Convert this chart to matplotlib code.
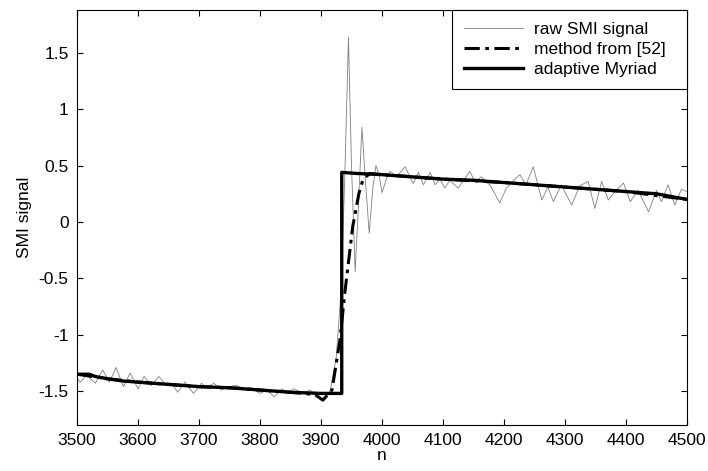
import matplotlib
matplotlib.use('Agg')
import matplotlib.pyplot as plt

plt.rcParams['font.family'] = ['Liberation Sans', 'DejaVu Sans']

# raw SMI signal (sample index, value)
raw_n = [3500, 3505, 3516, 3530, 3542, 3553, 3564, 3576, 3587, 3600,
         3610, 3622, 3634, 3647, 3655, 3665, 3677, 3691, 3704, 3713,
         3724, 3737, 3748, 3762, 3774, 3786, 3800, 3812, 3823, 3836,
         3846, 3856, 3870, 3882, 3893, 3905, 3915, 3925, 3933, 3939,
         3945, 3950, 3956, 3961, 3967, 3973, 3979, 3985, 3990, 3995,
         4000, 4007, 4013, 4024, 4030, 4038, 4051, 4060, 4068, 4079,
         4087, 4095, 4103, 4111, 4125, 4135, 4144, 4152, 4163, 4178,
         4193, 4204, 4214, 4226, 4236, 4248, 4262, 4272, 4281, 4294,
         4311, 4324, 4338, 4349, 4360, 4371, 4382, 4396, 4407, 4420,
         4437, 4450, 4458, 4469, 4480, 4491, 4500]
raw_v = [-1.38, -1.42, -1.36, -1.43, -1.31, -1.42, -1.29, -1.46, -1.34, -1.48,
         -1.37, -1.45, -1.37, -1.45, -1.43, -1.51, -1.42, -1.52, -1.43, -1.47,
         -1.43, -1.49, -1.46, -1.45, -1.48, -1.47, -1.52, -1.49, -1.55, -1.48,
         -1.51, -1.48, -1.52, -1.49, -1.54, -1.58, -1.50, -1.20, -0.60, 0.40,
         1.64, 0.50, -0.44, 0.10, 0.84, 0.35, -0.10, 0.30, 0.50, 0.42,
         0.26, 0.38, 0.45, 0.40, 0.44, 0.49, 0.34, 0.44, 0.33, 0.44,
         0.33, 0.38, 0.30, 0.37, 0.30, 0.38, 0.45, 0.36, 0.40, 0.32,
         0.17, 0.30, 0.36, 0.42, 0.33, 0.49, 0.195, 0.31, 0.18, 0.33,
         0.15, 0.32, 0.36, 0.12, 0.36, 0.195, 0.27, 0.345, 0.18, 0.28,
         0.09, 0.28, 0.18, 0.33, 0.15, 0.29, 0.27]

# method from [52]
ref_n = [3500, 3550, 3600, 3650, 3700, 3750, 3800, 3850, 3890, 3903,
         3918, 3931, 3939, 3952, 3962, 3969, 3980, 4000, 4100, 4200,
         4300, 4400, 4500]
ref_v = [-1.35, -1.39, -1.42, -1.44, -1.46, -1.47, -1.49, -1.51, -1.53, -1.58,
         -1.49, -1.05, -0.63, -0.04, 0.25, 0.38, 0.43, 0.42, 0.38, 0.35,
         0.31, 0.27, 0.20]

# adaptive Myriad
myr_n = [3500, 3520, 3530, 3550, 3575, 3600, 3650, 3700, 3750, 3800,
         3850, 3900, 3934, 3934, 3960, 4000, 4050, 4100, 4150, 4200,
         4250, 4300, 4350, 4400, 4450, 4480, 4500]
myr_v = [-1.35, -1.35, -1.37, -1.39, -1.41, -1.42, -1.44, -1.46, -1.47, -1.49,
         -1.51, -1.52, -1.52, 0.44, 0.43, 0.42, 0.40, 0.38, 0.37, 0.35,
         0.33, 0.31, 0.29, 0.27, 0.25, 0.22, 0.20]

xticks = [3500, 3600, 3700, 3800, 3900, 4000, 4100, 4200, 4300, 4400, 4500]
yticks = [-1.5, -1, -0.5, 0, 0.5, 1, 1.5]
ytick_labels = ['-1.5', '-1', '-0.5', '0', '0.5', '1', '1.5']

fig = plt.figure(figsize=(7.08, 4.71), dpi=100)
ax = fig.add_axes([0.1088, 0.0977, 0.8615, 0.8811])

ax.plot(raw_n, raw_v, color='0.5', lw=0.6, label='raw SMI signal')
ax.plot(ref_n, ref_v, color='black', lw=2.2, ls=(0, (5, 1.8, 1.2, 1.8)), label='method from [52]')
ax.plot(myr_n, myr_v, color='black', lw=2.4, label='adaptive Myriad')

ax.set_xlim(3500, 4500)
ax.set_ylim(-1.8, 1.88)
ax.set_xticks(xticks)
ax.set_yticks(yticks)
ax.set_yticklabels(ytick_labels)
ax.tick_params(direction='in', top=True, right=True, length=4, width=0.8, labelsize=12.5, pad=6)
for s in ax.spines.values():
    s.set_linewidth(0.8)

ax.set_xlabel('n', fontsize=12.5, labelpad=0)
ax.set_ylabel('SMI signal', fontsize=12.5, labelpad=5)

# legend box spans from about 61.5% of the axes width to the right edge
leg = ax.legend(loc='upper left', bbox_to_anchor=(0.615, 0.0, 0.385, 1.0), mode='expand',
                fontsize=12.5, frameon=True, fancybox=False,
                edgecolor='black', framealpha=1, handlelength=3.4,
                borderaxespad=0, labelspacing=0.26, borderpad=0.7, handletextpad=0.6)
leg.get_frame().set_linewidth(0.8)

fig.savefig('out.png', dpi=100)
